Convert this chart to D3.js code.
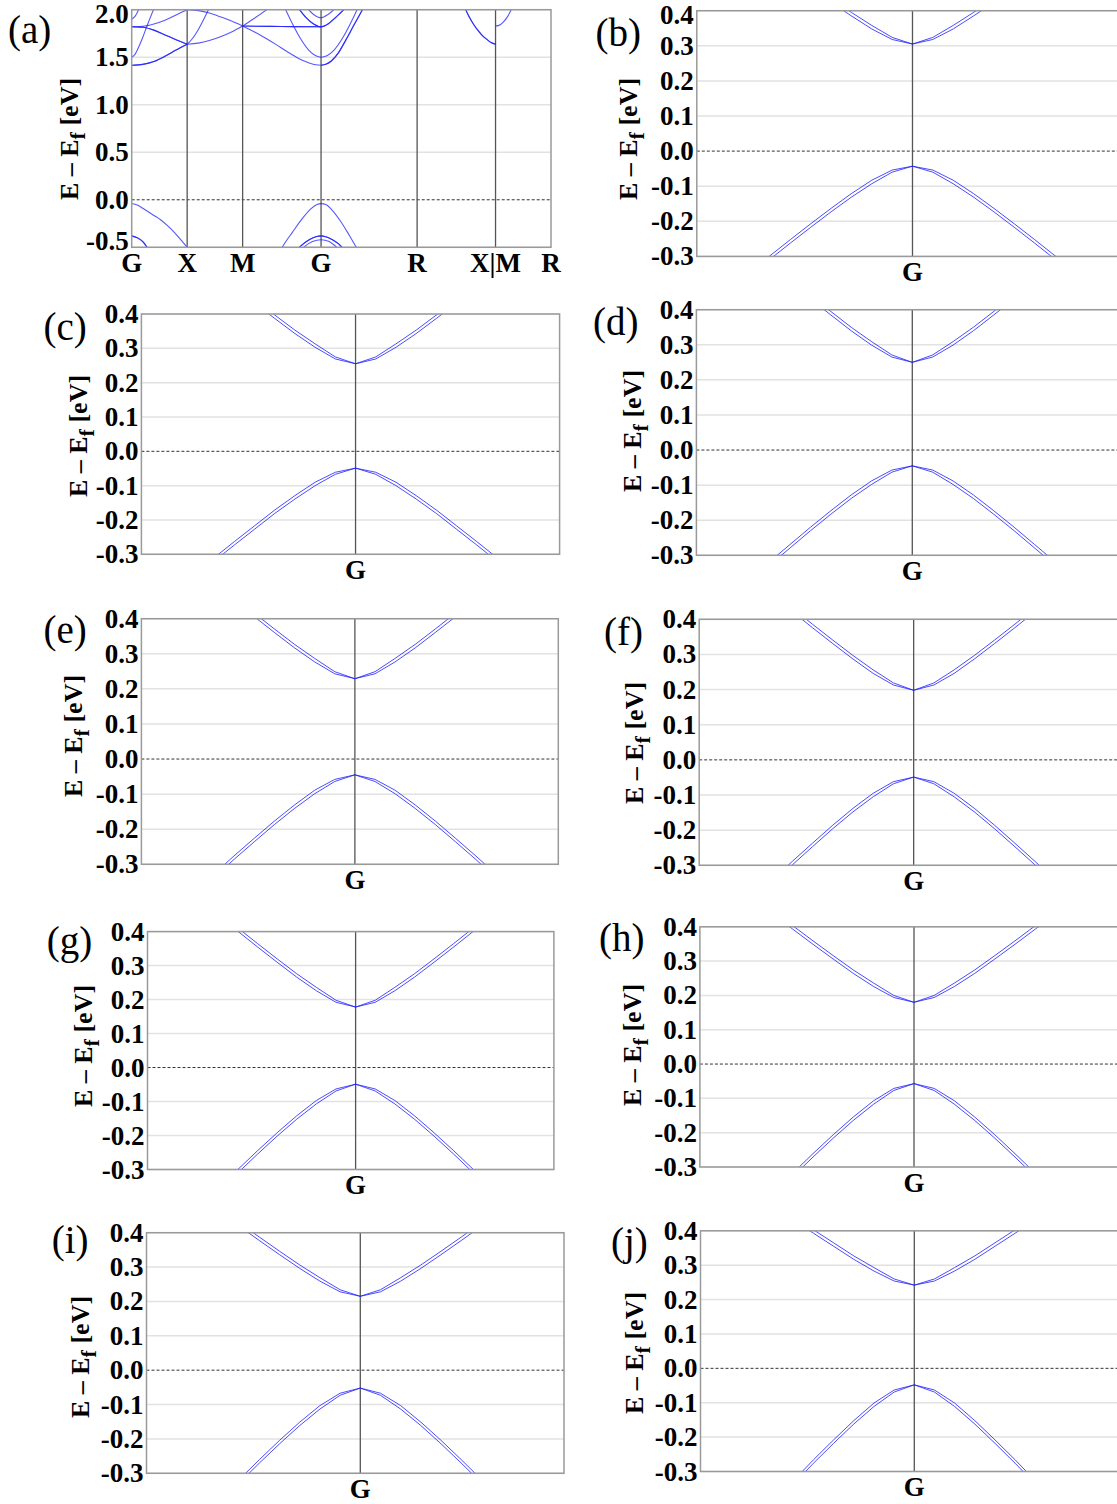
<!DOCTYPE html>
<html><head><meta charset="utf-8">
<script src="https://cdn.jsdelivr.net/npm/d3@7"></script>
<style>
body{margin:0;background:#fff;}
svg{display:block;}
text{font-family:"Liberation Serif","Times New Roman",serif;}
</style>
</head><body>
<svg id="chart" width="1117" height="1504"></svg>
<script>
// ---------- Panel (a): full band structure ----------
const aTickPos = [0, 0.5, 1.0, 1.7071, 2.5731, 3.2802, 3.7802];
const aTickLabels = ["G", "X", "M", "G", "R", "X|M", "R"];
const aYTicks = [2.0, 1.5, 1.0, 0.5, 0.0, -0.5];

const aVB1 = [[0,-0.04],[0.05,-0.055],[0.1,-0.09],[0.2,-0.165],[0.26,-0.21],[0.33,-0.28],[0.39,-0.35],[0.45,-0.43],[0.5,-0.5],[0.55,-0.56]];
const aVB2 = [[0,-0.38],[0.05,-0.40],[0.1,-0.44],[0.15,-0.52]];
const aVB3 = [[1.33,-0.56],[1.357,-0.5],[1.45,-0.34],[1.55,-0.18],[1.62,-0.09],[1.67,-0.05],[1.7071,-0.04],[1.75,-0.05],[1.8,-0.1],[1.88,-0.22],[1.96,-0.37],[2.025,-0.5],[2.05,-0.55]];
const aVB4 = [[1.47,-0.55],[1.52,-0.49],[1.6,-0.42],[1.66,-0.39],[1.7071,-0.38],[1.75,-0.39],[1.81,-0.42],[1.87,-0.47],[1.91,-0.52]];
const aVB5 = [[1.5,-0.55],[1.56,-0.49],[1.63,-0.44],[1.7071,-0.42],[1.78,-0.44],[1.84,-0.49],[1.88,-0.53]];
const aCB1 = [[0,1.415],[0.1,1.425],[0.2,1.455],[0.3,1.51],[0.4,1.575],[0.5,1.636]];
const aCB2 = [[0,1.82],[0.1,1.815],[0.2,1.785],[0.3,1.735],[0.4,1.685],[0.5,1.636]];
const aCB3 = [[0,1.5],[0.03,1.53],[0.06,1.6],[0.1,1.71],[0.135,1.82],[0.2,2.01]];
const aCB4 = [[0,1.9],[0.03,1.93],[0.07,2.02]];
const aCB5 = [[0,1.82],[0.1,1.825],[0.2,1.85],[0.3,1.89],[0.4,1.945],[0.5,2.0]];
const aCB6 = [[0.5,1.636],[0.6,1.648],[0.7,1.675],[0.8,1.715],[0.9,1.765],[1.0,1.828]];
const aCB7 = [[0.5,1.636],[0.55,1.7],[0.6,1.79],[0.65,1.9],[0.7,2.02]];
const aCB8 = [[0.5,2.0],[0.6,1.99],[0.7,1.965],[0.8,1.925],[0.9,1.88],[1.0,1.828]];
const aCB9 = [[1.0,1.828],[1.35,1.823],[1.7071,1.82]];
const aCB10 = [[1.0,1.828],[1.1,1.77],[1.2,1.705],[1.3,1.635],[1.4,1.56],[1.5,1.49],[1.6,1.44],[1.66,1.42],[1.7071,1.415]];
const aCB11 = [[1.7071,1.415],[1.75,1.425],[1.8,1.46],[1.86,1.54],[1.93,1.68],[2.0,1.83],[2.09,2.02]];
const aCB12 = [[1.38,2.02],[1.45,1.85],[1.52,1.7],[1.6,1.57],[1.66,1.515],[1.7071,1.5],[1.76,1.515],[1.82,1.57],[1.9,1.7],[1.97,1.85],[2.04,2.02]];
const aCB13 = [[1.5,2.02],[1.57,1.92],[1.64,1.85],[1.7071,1.82],[1.77,1.85],[1.84,1.92],[1.93,2.02]];
const aCB14 = [[1.58,2.02],[1.64,1.95],[1.7071,1.915],[1.77,1.95],[1.84,2.02]];
const aCB15 = [[1.0,1.828],[1.1,1.905],[1.23,2.01]];
const aCB16 = [[3.0,2.03],[3.04,1.93],[3.08,1.85],[3.12,1.785],[3.16,1.73],[3.2,1.69],[3.24,1.655],[3.2802,1.636]];
const aCB17 = [[3.2802,1.828],[3.31,1.835],[3.35,1.87],[3.39,1.93],[3.43,2.02]];
// degenerate (doubly occupied) bands are listed twice
const aBands = [aVB1, aVB2, aVB2, aVB3, aVB4, aVB4, aVB5,
  aCB1, aCB1, aCB2, aCB2, aCB3, aCB4, aCB5, aCB6, aCB7, aCB8, aCB9, aCB9,
  aCB10, aCB11, aCB11, aCB12, aCB13, aCB13, aCB14, aCB15, aCB16, aCB16, aCB17];

// ---------- Panels (b)-(j): zoom around G ----------
const kGrid = [-0.08,-0.07,-0.06,-0.05,-0.04,-0.03,-0.02,-0.01,0,0.01,0.02,0.03,0.04,0.05,0.06,0.07,0.08];
const smallYTicks = [0.4, 0.3, 0.2, 0.1, 0.0, -0.1, -0.2, -0.3];

const cbB1 = [0.591,0.549,0.507,0.465,0.424,0.385,0.348,0.318,0.305,0.318,0.348,0.385,0.424,0.465,0.507,0.549,0.591];
const cbB2 = [0.601,0.559,0.517,0.475,0.434,0.395,0.358,0.324,0.305,0.324,0.358,0.395,0.434,0.475,0.517,0.559,0.601];
const vbB1 = [-0.345,-0.298,-0.252,-0.207,-0.163,-0.121,-0.083,-0.054,-0.043,-0.054,-0.083,-0.121,-0.163,-0.207,-0.252,-0.298,-0.345];
const vbB2 = [-0.355,-0.308,-0.262,-0.217,-0.173,-0.131,-0.093,-0.060,-0.043,-0.060,-0.093,-0.131,-0.173,-0.217,-0.262,-0.308,-0.355];

const cbC1 = [0.571,0.524,0.478,0.432,0.387,0.343,0.303,0.269,0.255,0.269,0.303,0.343,0.387,0.432,0.478,0.524,0.571];
const cbC2 = [0.581,0.534,0.488,0.442,0.397,0.353,0.313,0.275,0.255,0.275,0.313,0.353,0.397,0.442,0.488,0.534,0.581];
const vbC1 = [-0.358,-0.310,-0.263,-0.217,-0.171,-0.129,-0.090,-0.061,-0.049,-0.061,-0.090,-0.129,-0.171,-0.217,-0.263,-0.310,-0.358];
const vbC2 = [-0.368,-0.320,-0.273,-0.227,-0.181,-0.139,-0.100,-0.067,-0.049,-0.067,-0.100,-0.139,-0.181,-0.227,-0.273,-0.320,-0.368];

const cbD1 = [0.573,0.525,0.478,0.431,0.385,0.340,0.299,0.265,0.250,0.265,0.299,0.340,0.385,0.431,0.478,0.525,0.573];
const cbD2 = [0.583,0.535,0.488,0.441,0.395,0.350,0.309,0.271,0.250,0.271,0.309,0.350,0.395,0.441,0.488,0.535,0.583];
const vbD1 = [-0.368,-0.318,-0.269,-0.220,-0.173,-0.128,-0.088,-0.057,-0.045,-0.057,-0.088,-0.128,-0.173,-0.220,-0.269,-0.318,-0.368];
const vbD2 = [-0.378,-0.328,-0.279,-0.230,-0.183,-0.138,-0.098,-0.063,-0.045,-0.063,-0.098,-0.138,-0.183,-0.230,-0.279,-0.328,-0.378];

const cbE1 = [0.544,0.498,0.451,0.406,0.361,0.317,0.277,0.243,0.229,0.243,0.277,0.317,0.361,0.406,0.451,0.498,0.544];
const cbE2 = [0.554,0.508,0.461,0.416,0.371,0.327,0.287,0.249,0.229,0.249,0.287,0.327,0.371,0.416,0.461,0.508,0.554];
const vbE1 = [-0.379,-0.328,-0.276,-0.226,-0.177,-0.131,-0.089,-0.058,-0.045,-0.058,-0.089,-0.131,-0.177,-0.226,-0.276,-0.328,-0.379];
const vbE2 = [-0.389,-0.338,-0.286,-0.236,-0.187,-0.141,-0.099,-0.064,-0.045,-0.064,-0.099,-0.141,-0.187,-0.236,-0.286,-0.338,-0.389];

const cbF1 = [0.516,0.469,0.422,0.376,0.331,0.287,0.246,0.213,0.198,0.213,0.246,0.287,0.331,0.376,0.422,0.469,0.516];
const cbF2 = [0.526,0.479,0.432,0.386,0.341,0.297,0.256,0.219,0.198,0.219,0.256,0.297,0.341,0.386,0.432,0.479,0.526];
const vbF1 = [-0.396,-0.342,-0.289,-0.237,-0.186,-0.138,-0.095,-0.062,-0.049,-0.062,-0.095,-0.138,-0.186,-0.237,-0.289,-0.342,-0.396];
const vbF2 = [-0.406,-0.352,-0.299,-0.247,-0.196,-0.148,-0.105,-0.068,-0.049,-0.068,-0.105,-0.148,-0.196,-0.247,-0.299,-0.352,-0.406];

const cbG1 = [0.495,0.448,0.401,0.355,0.310,0.266,0.226,0.192,0.178,0.192,0.226,0.266,0.310,0.355,0.401,0.448,0.495];
const cbG2 = [0.505,0.458,0.411,0.365,0.320,0.276,0.236,0.198,0.178,0.198,0.236,0.276,0.320,0.365,0.411,0.458,0.505];
const vbG1 = [-0.411,-0.355,-0.300,-0.245,-0.192,-0.142,-0.097,-0.063,-0.049,-0.063,-0.097,-0.142,-0.192,-0.245,-0.300,-0.355,-0.411];
const vbG2 = [-0.421,-0.365,-0.310,-0.255,-0.202,-0.152,-0.107,-0.069,-0.049,-0.069,-0.107,-0.152,-0.202,-0.255,-0.310,-0.365,-0.421];

const cbH1 = [0.482,0.437,0.393,0.349,0.306,0.264,0.226,0.194,0.180,0.194,0.226,0.264,0.306,0.349,0.393,0.437,0.482];
const cbH2 = [0.492,0.447,0.403,0.359,0.316,0.274,0.236,0.200,0.180,0.200,0.236,0.274,0.316,0.359,0.403,0.447,0.492];
const vbH1 = [-0.434,-0.375,-0.318,-0.261,-0.206,-0.154,-0.107,-0.071,-0.057,-0.071,-0.107,-0.154,-0.206,-0.261,-0.318,-0.375,-0.434];
const vbH2 = [-0.444,-0.385,-0.328,-0.271,-0.216,-0.164,-0.117,-0.077,-0.057,-0.077,-0.117,-0.164,-0.216,-0.271,-0.328,-0.385,-0.444];

const cbI1 = [0.504,0.461,0.419,0.377,0.336,0.296,0.259,0.228,0.215,0.228,0.259,0.296,0.336,0.377,0.419,0.461,0.504];
const cbI2 = [0.514,0.471,0.429,0.387,0.346,0.306,0.269,0.234,0.215,0.234,0.269,0.306,0.346,0.387,0.429,0.471,0.514];
const vbI1 = [-0.436,-0.377,-0.318,-0.260,-0.204,-0.151,-0.103,-0.067,-0.052,-0.067,-0.103,-0.151,-0.204,-0.260,-0.318,-0.377,-0.436];
const vbI2 = [-0.446,-0.387,-0.328,-0.270,-0.214,-0.161,-0.113,-0.073,-0.052,-0.073,-0.113,-0.161,-0.214,-0.270,-0.328,-0.387,-0.446];

const cbJ1 = [0.512,0.472,0.432,0.393,0.355,0.317,0.283,0.254,0.242,0.254,0.283,0.317,0.355,0.393,0.432,0.472,0.512];
const cbJ2 = [0.522,0.482,0.442,0.403,0.365,0.327,0.293,0.260,0.242,0.260,0.293,0.327,0.365,0.403,0.442,0.482,0.522];
const vbJ1 = [-0.451,-0.389,-0.327,-0.266,-0.208,-0.152,-0.101,-0.063,-0.048,-0.063,-0.101,-0.152,-0.208,-0.266,-0.327,-0.389,-0.451];
const vbJ2 = [-0.461,-0.399,-0.337,-0.276,-0.218,-0.162,-0.111,-0.069,-0.048,-0.069,-0.111,-0.162,-0.218,-0.276,-0.337,-0.399,-0.461];

const smallPanels = [
  {id:"b", bands:[cbB1, cbB2, vbB1, vbB2]},
  {id:"c", bands:[cbC1, cbC2, vbC1, vbC2]},
  {id:"d", bands:[cbD1, cbD2, vbD1, vbD2]},
  {id:"e", bands:[cbE1, cbE2, vbE1, vbE2]},
  {id:"f", bands:[cbF1, cbF2, vbF1, vbF2]},
  {id:"g", bands:[cbG1, cbG2, vbG1, vbG2]},
  {id:"h", bands:[cbH1, cbH2, vbH1, vbH2]},
  {id:"i", bands:[cbI1, cbI2, vbI1, vbI2]},
  {id:"j", bands:[cbJ1, cbJ2, vbJ1, vbJ2]}
];

// ---------- layout (pixels) ----------
const layout = {
  a:{l:131.7,r:551,t:9.7,b:247.3,labX:8,labY:43,titX:78,titY:139,tMin:14,tMax:241},
  b:{l:696.8,r:1118,t:10.7,b:256.4,labX:595.5,labY:46,titX:637,titY:139,tMin:15,tMax:9999},
  c:{l:141.4,r:559.6,t:314,b:554.3,labX:43.4,labY:340,titX:87,titY:436},
  d:{l:696.4,r:1118,t:309.7,b:555.3,labX:593,labY:335,titX:641,titY:431},
  e:{l:141.4,r:558.3,t:618.7,b:864.3,labX:43.4,labY:643,titX:82,titY:736},
  f:{l:699.2,r:1118,t:619.3,b:865.3,labX:604,labY:645,titX:643,titY:743},
  g:{l:147.5,r:553.9,t:931.6,b:1169.5,labX:46.8,labY:954,titX:92,titY:1046},
  h:{l:699.9,r:1118,t:926.8,b:1167,labX:599,labY:951,titX:641,titY:1045},
  i:{l:146.5,r:564,t:1232.7,b:1473.3,labX:51.8,labY:1253,titX:89,titY:1357},
  j:{l:700.5,r:1118,t:1230.8,b:1471.5,labX:611,labY:1255,titX:643,titY:1353}
};
const kDomain = [-0.106, 0.101];

const svg = d3.select("#chart");
const defs = svg.append("defs");
const BAND = "#1f1fff";

function fmt(v){ return (v < 0 ? "-" : "") + Math.abs(v).toFixed(1); }

function frame(id, x, y, yTicks, vlines){
  const L = layout[id];
  const tMin = L.tMin !== undefined ? L.tMin : -1e9;
  const tMax = L.tMax !== undefined ? L.tMax : 1e9;
  const g = svg.append("g");
  g.selectAll("line.grid").data(yTicks.filter(v => v !== 0)).join("line")
    .attr("x1", L.l).attr("x2", L.r).attr("y1", d => y(d)).attr("y2", d => y(d))
    .attr("stroke", "#e2e2e2").attr("stroke-width", 1.5);
  g.append("line").attr("x1", L.l).attr("x2", L.r).attr("y1", y(0)).attr("y2", y(0))
    .attr("stroke", "#333").attr("stroke-width", 1).attr("stroke-dasharray", "3,2");
  g.selectAll("line.v").data(vlines).join("line")
    .attr("x1", d => x(d)).attr("x2", d => x(d)).attr("y1", L.t).attr("y2", L.b)
    .attr("stroke", "#555").attr("stroke-width", 1.3);
  defs.append("clipPath").attr("id", "clip-" + id).append("rect")
    .attr("x", L.l).attr("y", L.t).attr("width", L.r - L.l).attr("height", L.b - L.t);
  g.selectAll("text.yt").data(yTicks).join("text")
    .attr("x", L.l - 3).attr("y", d => Math.min(tMax, Math.max(tMin, y(d)))).attr("text-anchor", "end")
    .attr("dominant-baseline", "central").attr("font-weight", "bold")
    .attr("font-size", 27).attr("fill", "#000").text(d => fmt(d));
  const t = g.append("text").attr("transform", `translate(${L.titX},${L.titY}) rotate(-90)`)
    .attr("text-anchor", "middle").attr("font-weight", "bold").attr("font-size", 26).attr("fill", "#000");
  t.append("tspan").text("E \u2013 E");
  t.append("tspan").attr("dy", 7).attr("font-size", 22).text("f");
  t.append("tspan").attr("dy", -7).text(" [eV]");
  g.append("text").attr("x", L.labX).attr("y", L.labY).attr("font-size", 39).attr("fill", "#000")
    .text("(" + id + ")");
  return g;
}

function border(id){
  const L = layout[id];
  svg.append("rect").attr("x", L.l).attr("y", L.t).attr("width", L.r - L.l).attr("height", L.b - L.t)
    .attr("fill", "none").attr("stroke", "#9a9a9a").attr("stroke-width", 1.5);
}

// ----- panel (a) -----
{
  const L = layout.a;
  const x = d3.scaleLinear().domain([aTickPos[0], aTickPos[aTickPos.length - 1]]).range([L.l, L.r]);
  const y = d3.scaleLinear().domain([-0.5, 2.0]).range([L.b, L.t]);
  frame("a", x, y, aYTicks, aTickPos.slice(1, -1));
  const line = d3.line().x(d => x(d[0])).y(d => y(d[1])).curve(d3.curveMonotoneX);
  svg.append("g").attr("clip-path", "url(#clip-a)").selectAll("path").data(aBands).join("path")
    .attr("d", line).attr("fill", "none").attr("stroke", BAND).attr("stroke-width", 1.1).attr("stroke-opacity", 0.75);
  border("a");
  svg.selectAll("text.xa").data(aTickPos).join("text")
    .attr("x", d => x(d)).attr("y", L.b + 24.7).attr("text-anchor", "middle")
    .attr("font-weight", "bold").attr("font-size", 27).attr("fill", "#000")
    .text((d, i) => aTickLabels[i]);
}

// ----- panels (b)-(j) -----
smallPanels.forEach(p => {
  const L = layout[p.id];
  const x = d3.scaleLinear().domain(kDomain).range([L.l, L.r]);
  const y = d3.scaleLinear().domain([-0.3, 0.4]).range([L.b, L.t]);
  frame(p.id, x, y, smallYTicks, [0]);
  const line = d3.line().x((d, i) => x(kGrid[i])).y(d => y(d));
  svg.append("g").attr("clip-path", `url(#clip-${p.id})`).selectAll("path").data(p.bands).join("path")
    .attr("d", line).attr("fill", "none").attr("stroke", BAND).attr("stroke-width", 1).attr("stroke-opacity", 0.8);
  border(p.id);
  svg.append("text").attr("x", x(0)).attr("y", L.b + 24.5).attr("text-anchor", "middle")
    .attr("font-weight", "bold").attr("font-size", 27).attr("fill", "#000").text("G");
});
</script>
</body></html>
